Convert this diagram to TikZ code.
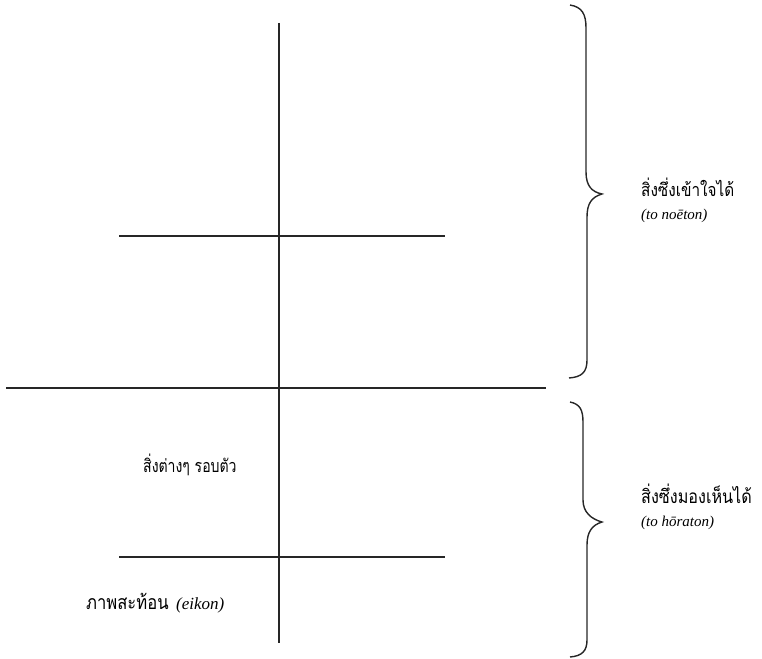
\documentclass[tikz,border=0pt]{standalone}
\usepackage{fontspec}
\setmainfont{Liberation Serif}
\newfontfamily\thaifont[Script=Thai,FakeStretch=0.85]{Loma}
\newfontfamily\thaicond[Script=Thai,FakeStretch=0.78]{Loma}
\begin{document}
\begin{tikzpicture}[x=1pt,y=-1pt,
  ln/.style={line width=1.3pt,black!85},
  br/.style={line width=1.4pt,black!85},
  thaiR/.style={font=\thaifont\fontsize{18}{21}\selectfont,inner sep=0pt,anchor=base west},
  lat/.style={font=\itshape\fontsize{15}{18}\selectfont,inner sep=0pt,anchor=base west}]
\useasboundingbox (0,0) rectangle (762,658);
\coordinate (vt) at (279,23);
\coordinate (vb) at (279,643);
\coordinate (ul) at (119,236);
\coordinate (ur) at (445,236);
\coordinate (ml) at (6,388);
\coordinate (mr) at (546,388);
\coordinate (ll) at (119,557);
\coordinate (lr) at (445,557);
\draw[ln] (vt) -- (vb);
\draw[ln] (ul) -- (ur);
\draw[ln] (ml) -- (mr);
\draw[ln] (ll) -- (lr);
% upper brace
\draw[br] (570,5) .. controls (582,7) and (586,14) .. (586,28)
  -- (586,172) .. controls (586,186) and (592,192) .. (602,194)
  .. controls (592,197) and (587,203) .. (587,217)
  -- (587,360) .. controls (587,372) and (582,377) .. (569,378);
% lower brace
\draw[br] (570,402) .. controls (580,404) and (583,410) .. (583,422)
  -- (583,500) .. controls (583,512) and (591,519) .. (602,522)
  .. controls (592,525) and (587,532) .. (587,545)
  -- (587,640) .. controls (587,651) and (582,656) .. (570,657);
\node[thaiR] (t1) at (641,196) {สิ่งซึ่งเข้าใจได้};
\node[lat] (t1b) at (641,219) {(to noēton)};
\node[thaiR,font=\thaifont\fontsize{19}{22}\selectfont] (t2) at (641,503) {สิ่งซึ่งมองเห็นได้};
\node[lat] (t2b) at (641,526) {(to hōraton)};
\node[thaiR,font=\thaicond\fontsize{18}{21}\selectfont] (t3) at (143,472) {สิ่งต่างๆ รอบตัว};
\node[thaiR,font=\thaifont\fontsize{19.5}{22}\selectfont] (t4) at (86,609) {ภาพสะท้อน};
\node[lat,font=\itshape\fontsize{17}{20}\selectfont] (t4b) at (176,609) {(eikon)};
\end{tikzpicture}
\end{document}
